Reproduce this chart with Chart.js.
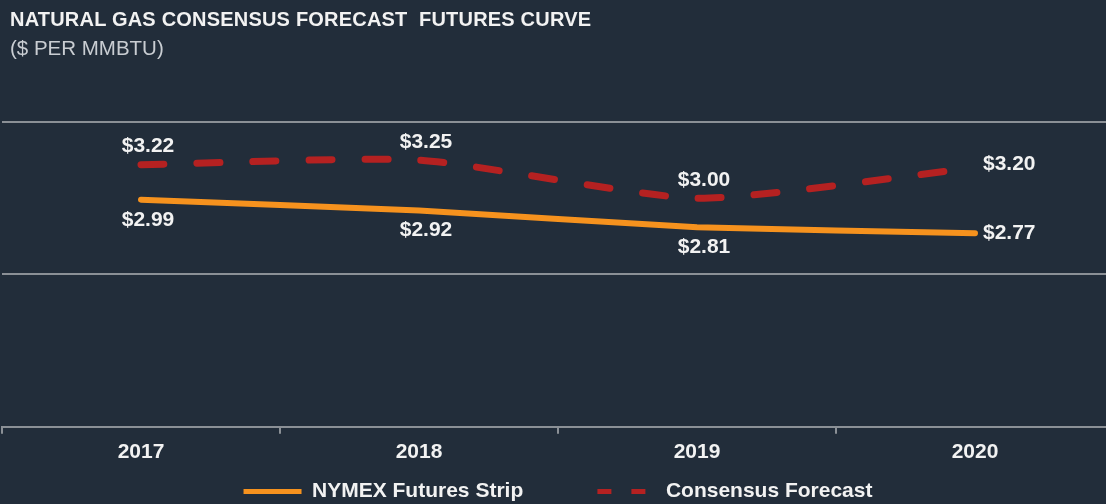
<!DOCTYPE HTML>
<html>
    <head>
        <title>Natural Gas Consensus Forecast</title>
        <script src="https://cdn.jsdelivr.net/npm/chart.js@4"></script>
        <style>
        html, body {
            margin: 0;
            padding: 0;
            background-color: #222d3a;
            overflow: hidden;
            font-family: "Liberation Sans", Arial, sans-serif;
        }
        #wrap {
            position: relative;
            width: 1106px;
            height: 504px;
            overflow: hidden;
        }
        #canvas-holder {
            position: absolute;
            left: 0;
            top: 0;
            width: 1114px;
            height: 512px;
        }
        .title {
            position: absolute;
            left: 10px;
            top: 8px;
            color: #f2f2f2;
            font-weight: bold;
            font-size: 20px;
            letter-spacing: 0.2px;
            white-space: pre;
        }
        .subtitle {
            position: absolute;
            left: 10px;
            top: 36px;
            color: #c9cdd2;
            font-size: 20.5px;
            white-space: pre;
        }
        </style>
    </head>
    <body>
        <div id="wrap">
            <div id="canvas-holder">
                <canvas id="chart-area" width="1114" height="512"></canvas>
            </div>
            <div class="title">NATURAL GAS CONSENSUS FORECAST  FUTURES CURVE</div>
            <div class="subtitle">($ PER MMBTU)</div>
        </div>
        <script>
            // values
            var years = ['2017', '2018', '2019', '2020'];
            var nymexStrip = [2.99, 2.92, 2.81, 2.77];
            var consensusForecast = [3.22, 3.25, 3.00, 3.20];
            var seriesNames = ['NYMEX Futures Strip', 'Consensus Forecast'];

            var colors = {
                orange: '#f6921e',
                red: '#b52121',
                grid: '#8b9096',
                text: '#f2f2f2'
            };

            var valueLabels = {
                id: 'valueLabels',
                afterDatasetsDraw: function(chart) {
                    var ctx = chart.ctx;
                    ctx.save();
                    ctx.font = 'bold 21px "Liberation Sans", Arial, sans-serif';
                    ctx.fillStyle = colors.text;
                    ctx.textBaseline = 'middle';
                    chart.data.datasets.forEach(function(ds, i) {
                        var meta = chart.getDatasetMeta(i);
                        meta.data.forEach(function(pt, j) {
                            var txt = '$' + ds.data[j].toFixed(2);
                            if (j === ds.data.length - 1) {
                                ctx.textAlign = 'left';
                                ctx.fillText(txt, pt.x + 8, pt.y + (i === 1 ? -4 : 0));
                            } else {
                                ctx.textAlign = 'center';
                                ctx.fillText(txt, pt.x + 7, pt.y + (i === 1 ? -18 : 20));
                            }
                        });
                    });
                    ctx.restore();
                }
            };

            var config = {
                type: 'line',
                data: {
                    labels: years,
                    datasets: [{
                        label: seriesNames[0],
                        data: nymexStrip,
                        borderColor: colors.orange,
                        backgroundColor: colors.orange,
                        borderWidth: 6,
                        borderCapStyle: 'round',
                        pointRadius: 0,
                        tension: 0.15
                    }, {
                        label: seriesNames[1],
                        data: consensusForecast,
                        borderColor: colors.red,
                        backgroundColor: colors.red,
                        borderWidth: 7,
                        borderDash: [23, 33],
                        borderCapStyle: 'round',
                        pointRadius: 0,
                        tension: 0.2
                    }]
                },
                options: {
                    responsive: false,
                    animation: false,
                    layout: {
                        padding: { left: 2, right: 0, top: 122, bottom: 0 }
                    },
                    scales: {
                        x: {
                            offset: true,
                            grid: {
                                offset: true,
                                drawOnChartArea: false,
                                drawTicks: true,
                                tickLength: 7,
                                color: colors.grid,
                                lineWidth: 2
                            },
                            border: { display: true, color: colors.grid, width: 2 },
                            ticks: {
                                color: colors.text,
                                padding: 6,
                                font: { family: '"Liberation Sans", Arial, sans-serif', size: 21, weight: 'bold' }
                            }
                        },
                        y: {
                            min: 1.5,
                            max: 3.5,
                            ticks: { display: false, stepSize: 1 },
                            border: { display: false },
                            grid: { color: colors.grid, lineWidth: 2, drawTicks: false }
                        }
                    },
                    plugins: {
                        tooltip: { enabled: false },
                        legend: {
                            position: 'bottom',
                            labels: {
                                color: colors.text,
                                usePointStyle: true,
                                pointStyle: 'line',
                                pointStyleWidth: 58,
                                boxHeight: 21,
                                padding: 10,
                                font: { family: '"Liberation Sans", Arial, sans-serif', size: 21, weight: 'bold' },
                                generateLabels: function(chart) {
                                    var items = Chart.defaults.plugins.legend.labels.generateLabels(chart);
                                    items.forEach(function(it, k) {
                                        var ds = chart.data.datasets[it.datasetIndex];
                                        it.lineWidth = 5;
                                        it.lineCap = 'butt';
                                        it.lineDash = ds.borderDash ? [14, 20] : [];
                                        // extra room between the two legend entries
                                        if (k === 0) {
                                            it.text = it.text + '           ';
                                        }
                                    });
                                    return items;
                                }
                            }
                        }
                    }
                },
                plugins: [valueLabels]
            };

            window.onload = function() {
                var ctx = document.getElementById('chart-area').getContext('2d');
                window.myLine = new Chart(ctx, config);
            };
        </script>
    </body>
</html>
